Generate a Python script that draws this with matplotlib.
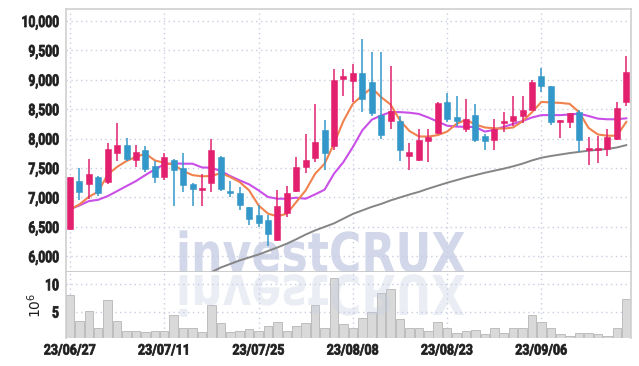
"""Candlestick chart with 5/20/long moving averages and volume panel, investCRUX style."""
import numpy as np
import matplotlib
matplotlib.use("Agg")
import matplotlib.pyplot as plt
from matplotlib import font_manager as fm
from matplotlib.font_manager import FontProperties
from matplotlib.patheffects import AbstractPathEffect
from matplotlib.textpath import TextPath
from matplotlib.transforms import Affine2D, IdentityTransform

# ---- data (60 trading days, 23/06/27 .. 23/09/19) ----
opens = [6470, 7280, 7230, 7350, 7270, 7750, 7900, 7630, 7800, 7530,
         7340, 7630, 7500, 7230, 7130, 7250, 7680, 7100, 7080, 6830,
         6710, 6610, 6270, 6740, 7110, 7520, 7670, 8140, 7870, 9010,
         8980, 9110, 8960, 8410, 8300, 8300, 7700, 7630, 7960, 8090,
         8620, 8360, 8170, 8410, 8050, 7970, 8260, 8300, 8380, 8490,
         9070, 8900, 8280, 8280, 8450, 7810, 7810, 7820, 8000, 8620]
closes = [7350, 7100, 7400, 7080, 7820, 7900, 7660, 7770, 7480, 7350,
          7680, 7470, 7220, 7150, 7150, 7800, 7140, 7080, 6880, 6630,
          6560, 6380, 6850, 7070, 7520, 7630, 7950, 7760, 9000, 9060,
          9110, 8670, 8430, 8070, 8470, 7800, 7770, 7970, 8020, 8600,
          8330, 8300, 8330, 7970, 7960, 8170, 8300, 8380, 8490, 8970,
          8890, 8280, 8310, 8430, 7980, 7840, 7840, 8030, 8520, 9140]
highs = [7350, 7500, 7650, 7360, 7930, 8270, 8010, 7890, 7880, 7620,
         7750, 7650, 7750, 7250, 7400, 8000, 7700, 7280, 7170, 6830,
         6880, 6710, 7120, 7190, 7680, 8080, 8590, 8310, 9190, 9190,
         9270, 9700, 9470, 9470, 9230, 8390, 7930, 8170, 8170, 8620,
         8770, 8730, 8680, 8590, 8080, 8340, 8450, 8730, 8730, 8990,
         9200, 8900, 8310, 8430, 8480, 8020, 8050, 8170, 8620, 9400]
lows = [6440, 6960, 6970, 7020, 7230, 7620, 7620, 7510, 7430, 7250,
        7290, 6860, 7090, 6850, 6850, 7100, 7110, 7000, 6780, 6540,
        6500, 6170, 6260, 6660, 7100, 7420, 7610, 7470, 7810, 8720,
        8620, 8450, 8390, 8000, 8170, 7620, 7460, 7620, 7600, 8080,
        8280, 8220, 8110, 7940, 7800, 7800, 8110, 8220, 8260, 8480,
        8790, 8240, 8010, 8180, 7770, 7560, 7580, 7710, 7980, 8560]
ma5 = [6800, 6880, 7010, 7100, 7390, 7520, 7620, 7690, 7745, 7630,
       7590, 7560, 7450, 7380, 7360, 7364, 7415, 7347, 7262, 7121,
       6866, 6725, 6679, 6725, 6923, 7121, 7404, 7574, 7913, 8300,
       8592, 8734, 8864, 8706, 8581, 8309, 8130, 8038, 8035, 8060,
       8120, 8253, 8321, 8240, 8190, 8176, 8170, 8190, 8296, 8449,
       8625, 8615, 8608, 8591, 8449, 8182, 8070, 8050, 8050, 8285]
ma20 = [6800, 6864, 6938, 6961, 7023, 7108, 7194, 7279, 7381, 7478,
        7563, 7580, 7574, 7574, 7510, 7506, 7449, 7364, 7291, 7223,
        7121, 7008, 6979, 6979, 6996, 6979, 7053, 7132, 7404, 7602,
        7857, 8140, 8321, 8394, 8451, 8451, 8441, 8420, 8360, 8290,
        8220, 8205, 8200, 8198, 8120, 8150, 8200, 8250, 8300, 8360,
        8400, 8400, 8400, 8410, 8425, 8385, 8340, 8329, 8330, 8346]
ma_long = [np.nan] * 14 + [
    5650, 5730, 5810, 5870, 5930, 5980,
    6030, 6090, 6150, 6215, 6290, 6370, 6440, 6500, 6560, 6640,
    6720, 6780, 6840, 6890, 6950, 7000, 7050, 7095, 7150, 7200,
    7250, 7295, 7340, 7380, 7420, 7455, 7490, 7530, 7575, 7630,
    7675, 7705, 7730, 7755, 7775, 7795, 7810, 7825, 7850, 7890]
volumes = [8.05, 3.3, 5.1, 1.95, 7.1, 3.3, 1.45, 1.45, 1.3, 1.45,
           1.45, 4.4, 1.95, 1.95, 1.3, 6.3, 2.9, 1.3, 1.45, 1.8,
           1.45, 2.4, 3.05, 1.45, 2.4, 2.9, 6.2, 2.1, 11.1, 2.75,
           2.1, 3.8, 5.0, 8.5, 9.1, 3.6, 2.1, 2.1, 1.45, 3.05,
           1.95, 1.2, 1.45, 1.6, 0.85, 1.95, 1.05, 1.95, 1.95, 4.4,
           3.05, 1.95, 0.85, 0.6, 1.05, 1.05, 0.85, 0.6, 2.1, 7.4]
tick_idx = [0, 10, 20, 30, 40, 50]
tick_labels = ["23/06/27", "23/07/11", "23/07/25", "23/08/08", "23/08/23", "23/09/06"]

UP = "#e2206e"
DOWN = "#3497c9"
GRID = "#c9cde0"
FRAME = "#cfcfcf"
TXT = "#1e1e1e"
WM = "#c7cee4"


def pick_bold(cands):
    """first family in cands that really has a bold face installed"""
    for name in cands:
        for f in fm.fontManager.ttflist:
            w = f.weight
            if isinstance(w, str):
                w = fm.weight_dict.get(w, 400)
            if f.name == name and w >= 700 and f.style == "normal":
                return name
    return "DejaVu Sans"


TICK_FAMILY = pick_bold(["Roboto", "Liberation Sans", "Lato", "Open Sans", "DejaVu Sans"])
TICK_PROP = FontProperties(family=TICK_FAMILY, weight="bold")


def natural_width(s, pt):
    return TextPath((0, 0), s, size=pt * 100 / 72, prop=TICK_PROP).get_extents().width


class Squeeze(AbstractPathEffect):
    """Draw text narrower (condensed look), optionally mirrored about a
    horizontal display line and optionally outlined to look heavier.
    Text stays a Text artist; only the glyph path is transformed at draw time."""

    def __init__(self, sx=1.0, anchor="center", width=None, mirror_y=None, stroke=0.0):
        super().__init__()
        self.sx, self.anchor, self.width = sx, anchor, width
        self.mirror_y, self.stroke = mirror_y, stroke

    def draw_path(self, renderer, gc, tpath, affine, rgbFace=None):
        ext = affine.transform_path(tpath).get_extents()
        sx = self.width / ext.width if self.width else self.sx
        x0 = {"left": ext.x0, "right": ext.x1, "center": 0.5 * (ext.x0 + ext.x1)}[self.anchor]
        t = Affine2D().translate(-x0, 0).scale(sx, 1).translate(x0, 0)
        if self.mirror_y is not None:
            m = self.mirror_y
            t = t.translate(0, -m).scale(1, -1).translate(0, m)
        gc0 = renderer.new_gc()
        gc0.copy_properties(gc)
        if self.stroke > 0 and rgbFace is not None:
            gc0.set_linewidth(self.stroke)
            gc0.set_foreground(rgbFace)
            gc0.set_joinstyle("round")
        renderer.draw_path(gc0, tpath, affine + t, rgbFace)
        gc0.restore()


o = np.array(opens, float)
c = np.array(closes, float)
h = np.array(highs, float)
l = np.array(lows, float)
x = np.arange(len(o))
col = np.where(c >= o, UP, DOWN)

fig = plt.figure(figsize=(6.39, 3.66), dpi=100)
W, H = 639, 366
left, right = 66, 631
ax = fig.add_axes([left / W, 1 - 272 / H, (right - left) / W, (272 - 9) / H])
axv = fig.add_axes([left / W, 1 - 338 / H, (right - left) / W, (338 - 272) / H], sharex=ax)

# ---- price panel ----
ax.vlines(x, l, h, colors=col, linewidth=1.1, zorder=3)
body_lo = np.minimum(o, c)
body_h = np.maximum(np.abs(c - o), 35)
ax.bar(x, body_h, bottom=body_lo, width=0.64, color=col, edgecolor=col,
       linewidth=0.4, zorder=4)
ax.plot(x, ma_long, color="#858585", linewidth=1.4, zorder=2)
ax.plot(x, ma20, color="#c94fe6", linewidth=1.5, zorder=2)
ax.plot(x, ma5, color="#f0824e", linewidth=1.5, zorder=2)

ax.set_xlim(-0.42, 59.5)
ax.set_ylim(5733, 10204)
ax.set_yticks([6000, 6500, 7000, 7500, 8000, 8500, 9000, 9500, 10000])
ax.yaxis.set_major_formatter(plt.FuncFormatter(lambda v, _p: f"{v:,.0f}"))
ax.set_xticks(tick_idx)
ax.tick_params(labelbottom=False)

# ---- volume panel ----
axv.bar(x, volumes, width=0.9, color="#d9d9d9", edgecolor="#bdbdbd",
        linewidth=0.7, zorder=2)
axv.set_ylim(0.2, 12.24)
axv.set_yticks([5, 10])
axv.set_xticks(tick_idx)
axv.set_xticklabels(tick_labels)
axv.text(-0.055, 0.5, r"$10^6$", transform=axv.transAxes, rotation=90,
         ha="center", va="center", fontsize=10, color=TXT, family="DejaVu Serif")

YPT, XPT = 11.5, 10.5
y_sx = min(1.0, 36 / natural_width("10,000", YPT))
x_sx = min(1.0, 51 / natural_width("23/06/27", XPT))
for a in (ax, axv):
    a.set_facecolor("white")
    a.grid(True, color=GRID, linestyle=(0, (1, 2.5)), linewidth=1.0, zorder=0)
    a.set_axisbelow(True)
    a.tick_params(axis="y", length=0, pad=5, colors=TXT)
    a.tick_params(axis="x", length=0, pad=4, colors=TXT)
    for lab in a.get_yticklabels():
        lab.set_fontproperties(FontProperties(family=TICK_FAMILY, weight="bold", size=YPT))
        lab.set_path_effects([Squeeze(y_sx, "right", stroke=0.55)])
    for lab in a.get_xticklabels():
        lab.set_fontproperties(FontProperties(family=TICK_FAMILY, weight="bold", size=XPT))
        lab.set_path_effects([Squeeze(x_sx, "center", stroke=0.55)])
    for side in ("left", "right", "top", "bottom"):
        a.spines[side].set_color(FRAME)
        a.spines[side].set_linewidth(1.2)
axv.spines["bottom"].set_visible(False)
axv.spines["top"].set_visible(False)
ax.spines["bottom"].set_color("#c4c4c4")

# ---- watermark "investCRUX" with mirrored reflection ----
wm_kw = dict(fontsize=39.5, fontweight="bold", family="DejaVu Sans", color=WM,
             ha="left", va="baseline", transform=IdentityTransform())
ax.text(175, H - 272, "investCRUX", alpha=0.8, zorder=1,
        path_effects=[Squeeze(anchor="left", width=285)], **wm_kw)
axv.text(175, H - 272, "investCRUX", alpha=0.35, zorder=3,
         path_effects=[Squeeze(anchor="left", width=285, mirror_y=H - 273.5)], **wm_kw)

fig.savefig("out.png", dpi=100)
